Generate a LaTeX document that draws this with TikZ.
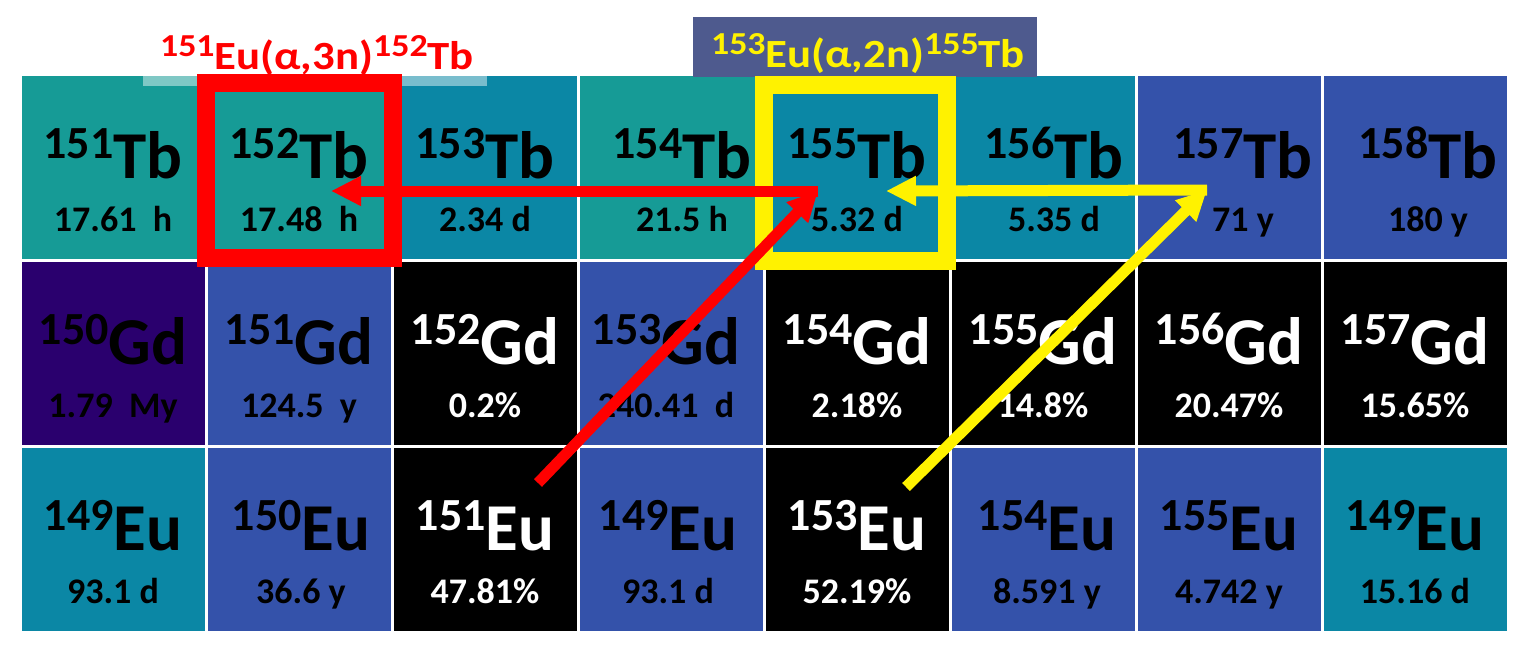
\documentclass[tikz,border=0pt]{standalone}
\usepackage{fontspec}
\usepackage{graphicx}
\setmainfont{Carlito}
\usetikzlibrary{arrows.meta}
\definecolor{teal1}{RGB}{22,155,150}
\definecolor{cyanb}{RGB}{11,135,165}
\definecolor{blueb}{RGB}{52,82,170}
\definecolor{purp}{RGB}{42,0,110}
\definecolor{labelbox}{RGB}{78,90,142}
\newcommand{\isotope}[2]{\raisebox{20pt}{\fontsize{46}{46}\selectfont #1}{\fontsize{67}{67}\selectfont #2}}
\newcommand{\lblsup}[1]{\raisebox{13pt}{\fontsize{32}{32}\selectfont #1}}
\begin{document}
\begin{tikzpicture}[x=1pt,y=-1pt,
  cell/.style={draw=white, line width=3pt, minimum width=186pt, minimum height=186pt, inner sep=0pt, outer sep=0pt},
  sym/.style={anchor=base, inner sep=0pt, font=\bfseries},
  life/.style={anchor=base, inner sep=0pt, font=\bfseries\fontsize{36}{36}\selectfont},
  hibox/.style={line width=18pt, inner sep=0pt, outer sep=0pt},
  bigarrow/.style={line width=11pt, -{Triangle[length=30pt,width=28pt]}},
  reaction/.style={anchor=base, inner sep=0pt, font=\bfseries}]
\useasboundingbox (0,0) rectangle (1526,651);
\foreach \cc/\rr/\mass/\el/\life/\fc/\tc/\dx in {
 0/0/151/Tb/17.61\ \ h/teal1/black/0,
 1/0/152/Tb/17.48\ \ h/teal1/black/0,
 2/0/153/Tb/2.34 d/cyanb/black/0,
 3/0/154/Tb/21.5 h/teal1/black/11,
 4/0/155/Tb/5.32 d/cyanb/black/0,
 5/0/156/Tb/5.35 d/cyanb/black/11,
 6/0/157/Tb/71 y/blueb/black/14,
 7/0/158/Tb/180 y/blueb/black/13,
 0/1/150/Gd/1.79\ \ My/purp/black/0,
 1/1/151/Gd/124.5\ \ y/blueb/black/0,
 2/1/152/Gd/0.2\%/black/white/0,
 3/1/153/Gd/240.41\ \ d/blueb/black/-5,
 4/1/154/Gd/2.18\%/black/white/0,
 5/1/155/Gd/14.8\%/black/white/0,
 6/1/156/Gd/20.47\%/black/white/0,
 7/1/157/Gd/15.65\%/black/white/0,
 0/2/149/Eu/93.1 d/cyanb/black/0,
 1/2/150/Eu/36.6 y/blueb/black/2,
 2/2/151/Eu/47.81\%/black/white/0,
 3/2/149/Eu/93.1 d/blueb/black/-3,
 4/2/153/Eu/52.19\%/black/white/0,
 5/2/154/Eu/8.591 y/blueb/black/4,
 6/2/155/Eu/4.742 y/blueb/black/0,
 7/2/149/Eu/15.16 d/cyanb/black/0}{
  \node[cell, fill=\fc] (cell\cc\rr) at ({113+186*\cc},{167+186*\rr}) {};
  \node[sym, text=\tc] (sym\cc\rr) at ({113+186*\cc+\dx},{178+186*\rr}) {\isotope{\mass}{\el}};
  \node[life, text=\tc] (life\cc\rr) at ({113+186*\cc+\dx},{231+186*\rr}) {\life};
}
% faint band under the red label
\fill[white, opacity=0.45] (143,73) rectangle (487,86);
% label box for the yellow reaction
\node[fill=labelbox, minimum width=344pt, minimum height=60pt, inner sep=0pt] (ybg) at (865,47) {};
% highlight boxes
\node[hibox, draw=red, minimum width=187pt, minimum height=175pt] (rbox) at (299.5,170) {};
\node[hibox, draw=yellow, minimum width=183pt, minimum height=176pt] (ybox) at (855.5,173) {};
% arrows
\coordinate (rstart) at (538,483);
\coordinate (rmid) at (818,191);
\coordinate (rend) at (331,191);
\coordinate (ystart) at (906,487);
\coordinate (ymid) at (1207,190);
\coordinate (yend) at (886,191);
\draw[bigarrow, red] (rstart) -- (rmid);
\draw[bigarrow, red] (rmid) -- (rend);
\draw[bigarrow, yellow] (ystart) -- (ymid);
\draw[bigarrow, yellow] (ymid) -- (yend);
% reaction labels
\node[reaction, text=red] (rlab) at (317,69) {\scalebox{1.12}[1]{\lblsup{151}\fontsize{40}{40}\selectfont Eu(α,3n)\lblsup{152}Tb}};
\node[reaction, text=yellow] (ylab) at (868,67) {\scalebox{1.12}[1]{\lblsup{153}\fontsize{40}{40}\selectfont Eu(α,2n)\lblsup{155}Tb}};
\end{tikzpicture}
\end{document}
